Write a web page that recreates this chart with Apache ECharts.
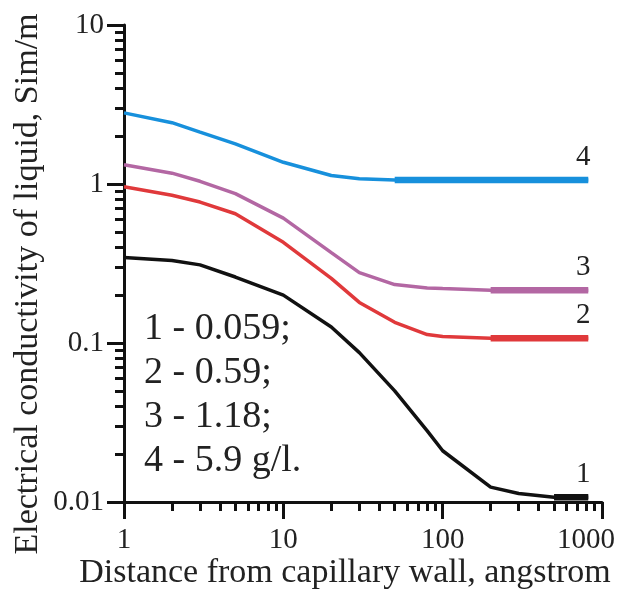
<!DOCTYPE html>
<html>
<head>
<meta charset="utf-8">
<script src="https://cdn.jsdelivr.net/npm/echarts@6/dist/echarts.min.js"></script>
<style>
  html, body { margin: 0; padding: 0; background: #fff; }
  #chart { width: 624px; height: 593px; }
</style>
</head>
<body>
<div id="chart"></div>
<script>
// distance from capillary wall, angstrom
const distance = [1, 2, 3, 5, 10, 20, 30, 50, 80, 100, 200, 300, 500, 820]

// electrical conductivity, Sim/m
const curve1 = [0.345, 0.33, 0.31, 0.26, 0.2, 0.126, 0.087, 0.05, 0.028, 0.021, 0.0124, 0.0113, 0.0107, 0.0107]
const curve2 = [0.96, 0.85, 0.77, 0.65, 0.43, 0.255, 0.18, 0.135, 0.113, 0.11, 0.107, 0.107, 0.107, 0.107]
const curve3 = [1.32, 1.17, 1.04, 0.87, 0.61, 0.37, 0.277, 0.233, 0.222, 0.22, 0.215, 0.215, 0.215, 0.215]
const curve4 = [2.8, 2.43, 2.12, 1.79, 1.37, 1.13, 1.08, 1.06, 1.06, 1.06, 1.06, 1.06, 1.06, 1.06]

const curveNames = ['1', '2', '3', '4']
const legendLines = ['1 - 0.059;', '2 - 0.59;', '3 - 1.18;', '4 - 5.9 g/l.']

const xMinorTicks = [2, 3, 4, 5, 6, 7, 8, 9, 20, 30, 40, 50, 60, 70, 80, 90, 200, 300, 400, 500, 600, 700, 800, 900]
const yMinorTicks = [0.02, 0.03, 0.04, 0.05, 0.06, 0.07, 0.08, 0.09, 0.2, 0.3, 0.4, 0.5, 0.6, 0.7, 0.8, 0.9, 2, 3, 4, 5, 6, 7, 8, 9]

const serif = "'Liberation Serif', 'DejaVu Serif', serif"
const textColor = '#222'

const curves = [
  { name: curveNames[0], values: curve1, color: '#111111', tailFrom: 12 },
  { name: curveNames[1], values: curve2, color: '#e0393b', tailFrom: 10 },
  { name: curveNames[2], values: curve3, color: '#b367a3', tailFrom: 10 },
  { name: curveNames[3], values: curve4, color: '#1790dc', tailFrom: 7 }
]

const fmt = (v) => String(parseFloat(Number(v).toPrecision(6)))

const series = []
curves.forEach((c) => {
  const pts = distance.map((d, i) => [d, c.values[i]])
  series.push({
    name: c.name,
    type: 'line',
    symbol: 'none',
    data: pts,
    lineStyle: { color: c.color, width: 3.5 },
    z: 3
  })
  const tail = pts.slice(c.tailFrom)
  const last = tail.length - 1
  series.push({
    name: c.name + ' tail',
    type: 'line',
    showSymbol: true,
    symbol: 'circle',
    symbolSize: 0,
    data: tail.map((p, i) =>
      i === last
        ? {
            value: p,
            label: {
              show: true,
              position: 'top',
              distance: 8,
              offset: [-5, 0],
              formatter: c.name,
              fontFamily: serif,
              fontSize: 29,
              color: textColor
            }
          }
        : { value: p }
    ),
    lineStyle: { color: c.color, width: 6.5 },
    z: 4
  })
})

const chart = echarts.init(document.getElementById('chart'))
chart.setOption({
  animation: false,
  backgroundColor: '#fff',
  grid: { left: 124, right: 22, top: 25, bottom: 91, outerBoundsMode: 'none', containLabel: false },
  xAxis: [
    {
      type: 'log',
      logBase: 10,
      min: 1,
      max: 1000,
      axisLine: { lineStyle: { color: '#111', width: 3 } },
      axisTick: { length: 17, lineStyle: { color: '#111', width: 3 } },
      axisLabel: {
        margin: 24,
        fontFamily: serif,
        fontSize: 29,
        color: textColor,
        formatter: (v) => (v >= 999 ? '{last|' + fmt(v) + '}' : fmt(v)),
        rich: {
          last: { fontFamily: serif, fontSize: 29, color: textColor, padding: [0, 32, 0, 0] }
        }
      },
      splitLine: { show: false }
    },
    {
      type: 'log',
      logBase: 10,
      min: 1,
      max: 1000,
      position: 'bottom',
      axisLine: { show: false },
      axisTick: { length: 9, customValues: xMinorTicks, lineStyle: { color: '#111', width: 3 } },
      axisLabel: { show: false },
      splitLine: { show: false }
    }
  ],
  yAxis: [
    {
      type: 'log',
      logBase: 10,
      min: 0.01,
      max: 10,
      axisLine: { show: true, lineStyle: { color: '#111', width: 3 } },
      axisTick: { show: true, length: 17, lineStyle: { color: '#111', width: 3 } },
      axisLabel: { margin: 20, fontFamily: serif, fontSize: 29, color: textColor, formatter: fmt },
      splitLine: { show: false }
    },
    {
      type: 'log',
      logBase: 10,
      min: 0.01,
      max: 10,
      position: 'left',
      axisLine: { show: false },
      axisTick: { show: true, length: 9, customValues: yMinorTicks, lineStyle: { color: '#111', width: 3 } },
      axisLabel: { show: false },
      splitLine: { show: false }
    }
  ],
  series: series,
  graphic: [
    {
      type: 'text',
      left: 144,
      top: 307,
      style: {
        text: legendLines.join('\n'),
        font: '38px ' + serif,
        lineHeight: 44,
        fill: textColor
      }
    },
    {
      type: 'text',
      x: 345,
      y: 573,
      style: {
        text: 'Distance from capillary wall, angstrom',
        font: '34px ' + serif,
        fill: textColor,
        align: 'center',
        verticalAlign: 'middle'
      }
    },
    {
      type: 'text',
      x: 28,
      y: 284,
      rotation: Math.PI / 2,
      style: {
        text: 'Electrical conductivity of liquid, Sim/m',
        font: '34px ' + serif,
        fill: textColor,
        align: 'center',
        verticalAlign: 'middle'
      }
    }
  ]
})
</script>
</body>
</html>
